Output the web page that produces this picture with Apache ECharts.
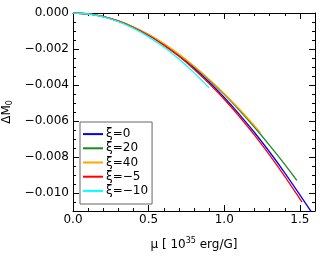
<!DOCTYPE html>
<html>
<head>
<meta charset="utf-8">
<script src="https://cdn.jsdelivr.net/npm/echarts@6/dist/echarts.min.js"></script>
<style>
html,body{margin:0;padding:0;background:#fff;}
#c{width:332px;height:266px;}
</style>
</head>
<body>
<div id="c"></div>
<script>
// Data
var seriesNames = ['ξ=0', 'ξ=20', 'ξ=40', 'ξ=−5', 'ξ=−10'];

var mu_xi0  = [0,0.1,0.2,0.3,0.4,0.5,0.6,0.7,0.8,0.9,1.0,1.1,1.2,1.3,1.4,1.5,1.575];
var dm_xi0  = [0,-0.00005,-0.0002,-0.000448,-0.00079,-0.001224,-0.001748,-0.002359,-0.003055,-0.003834,-0.004692,-0.005628,-0.006639,-0.007723,-0.008876,-0.010098,-0.01104];

var mu_xi20 = [0,0.1,0.2,0.3,0.4,0.5,0.6,0.7,0.8,0.9,1.0,1.1,1.2,1.3,1.4,1.48];
var dm_xi20 = [0,-0.00005,-0.0002,-0.000443,-0.000779,-0.001203,-0.001711,-0.0023,-0.002968,-0.00371,-0.004522,-0.005402,-0.006345,-0.00735,-0.00841,-0.0093];

var mu_xi40 = [0,0.1,0.2,0.3,0.4,0.5,0.6,0.7,0.8,0.9,1.0,1.1,1.2,1.24];
var dm_xi40 = [0,-0.00005,-0.0002,-0.000442,-0.000776,-0.001197,-0.0017,-0.002284,-0.002942,-0.003674,-0.004472,-0.005335,-0.006259,-0.006644];

var mu_xim5 = [0,0.1,0.2,0.3,0.4,0.5,0.6,0.7,0.8,0.9,1.0,1.1,1.2,1.3,1.4,1.5,1.514];
var dm_xim5 = [0,-0.00005,-0.000205,-0.000457,-0.000806,-0.001249,-0.001784,-0.002408,-0.003119,-0.003915,-0.004792,-0.005749,-0.006783,-0.007892,-0.009072,-0.010323,-0.010504];

var mu_xim10 = [0,0.1,0.2,0.3,0.4,0.5,0.6,0.7,0.8,0.9];
var dm_xim10 = [0,-0.000055,-0.000217,-0.000484,-0.000854,-0.001324,-0.001892,-0.002555,-0.003311,-0.004158];

var yMajorTicks = [0,-0.002,-0.004,-0.006,-0.008,-0.010];
var yMinorTicks = [-0.0005,-0.001,-0.0015,-0.0025,-0.003,-0.0035,-0.0045,-0.005,-0.0055,-0.0065,-0.007,-0.0075,-0.0085,-0.009,-0.0095,-0.0105];
var xTickLabels = ['0.0','0.5','1.0','1.5'];

var colors = ['#0000ff', '#1a8a1a', '#ffa500', '#ff0000', '#00ffff'];

function pairs(xs, ys){ return xs.map(function(x,i){ return [x, ys[i]]; }); }
var allMu = [mu_xi0, mu_xi20, mu_xi40, mu_xim5, mu_xim10];
var allDm = [dm_xi0, dm_xi20, dm_xi40, dm_xim5, dm_xim10];

var FONT = 'DejaVu Sans';
var chart = echarts.init(document.getElementById('c'), null, {renderer:'canvas'});

var yBase = {type:'value', min:-0.011, max:0, splitLine:{show:false}, gridIndex:0};
function yAx(pos, ticks, len, showLabel, showLine){
  return Object.assign({}, yBase, {
    position: pos,
    axisLine:{show:showLine, onZero:false, lineStyle:{color:'#000', width:1}},
    axisTick:{show:true, inside:true, length:len, customValues:ticks, lineStyle:{color:'#000', width:1}},
    axisLabel:{show:showLabel, customValues:ticks, margin:4, color:'#000', fontFamily:FONT, fontSize:12,
      formatter:function(v){ return (v < -1e-9 ? '−' : '') + Math.abs(v).toFixed(3); }},
    name: showLabel ? 'ΔM{sub|0}' : '',
    nameLocation:'middle', nameGap:39, nameRotate:90,
    nameTextStyle:{color:'#000', fontFamily:FONT, fontSize:12,
      rich:{sub:{fontSize:8, fontFamily:FONT, verticalAlign:'bottom', padding:[6,0,0,0]}}}
  });
}
function xAx(pos, showLabel){
  return {
    type:'value', min:0, max:1.6, interval:0.5, position:pos, gridIndex:0,
    splitLine:{show:false},
    axisLine:{show:true, onZero:false, lineStyle:{color:'#000', width:1}},
    axisTick:{show:true, inside:true, length:6, lineStyle:{color:'#000', width:1}},
    minorTick:{show:true, splitNumber:5, length:3, lineStyle:{color:'#000', width:1}},
    axisLabel:{show:showLabel, margin:3, color:'#000', fontFamily:FONT, fontSize:12,
      formatter:function(v){ return v.toFixed(1); }},
    name: showLabel ? 'μ [ 10{sup|35} erg/G]' : '',
    nameLocation:'middle', nameGap:26,
    nameTextStyle:{color:'#000', fontFamily:FONT, fontSize:12,
      rich:{sup:{fontSize:8, fontFamily:FONT, verticalAlign:'top', padding:[0,0,7,0]}}}
  };
}

var series = seriesNames.map(function(n,i){
  return {
    name:n, type:'line', xAxisIndex:0, yAxisIndex:0,
    data: pairs(allMu[i], allDm[i]),
    showSymbol:false, symbol:'none', smooth:0.2,
    lineStyle:{color:colors[i], width:1.3}, itemStyle:{color:colors[i]},
    z: 2+i
  };
});

chart.setOption({
  animation:false,
  backgroundColor:'#fff',
  color: colors,
  grid:{left:73, top:13, width:242, height:198, containLabel:false, outerBoundsMode:'none'},
  xAxis:[xAx('bottom', true), xAx('top', false)],
  yAxis:[
    yAx('left', yMajorTicks, 6, true, true),
    yAx('left', yMinorTicks, 3, false, false),
    yAx('right', yMajorTicks, 6, false, true),
    yAx('right', yMinorTicks, 3, false, false)
  ],
  legend:{
    data: seriesNames, orient:'vertical', left:80, top:122,
    backgroundColor:'#fff', borderColor:'#666', borderWidth:1,
    padding:[5,4,6,3], itemGap:0, itemWidth:20, itemHeight:2, icon:'rect',
    textStyle:{color:'#000', fontFamily:FONT, fontSize:12, lineHeight:14.2, padding:[0,0,0,-2]},
    selectedMode:false
  },
  series: series
});
</script>
</body>
</html>
